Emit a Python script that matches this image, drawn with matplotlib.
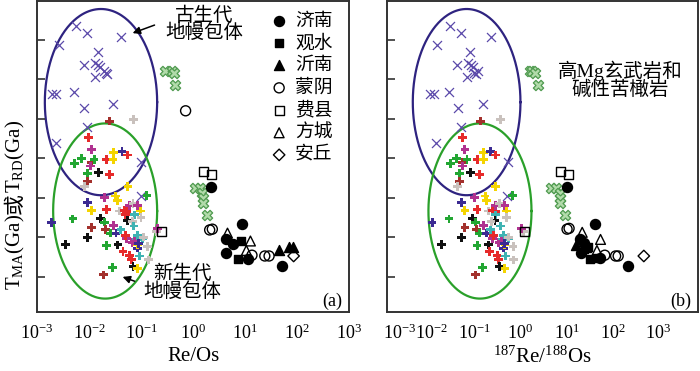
import numpy as np
import matplotlib.pyplot as plt

plt.rcParams['font.family'] = ['Liberation Serif', 'Noto Sans CJK SC']
plt.rcParams['mathtext.fontset'] = 'custom'
plt.rcParams['mathtext.rm'] = 'Liberation Serif'
plt.rcParams['mathtext.it'] = 'Liberation Serif:italic'

# ---- data (x: Re/Os for panel a, 187Re/188Os for panel b; y: T_MA / T_RD in Ga) ----
# Paleozoic mantle xenoliths (purple x)
paleo_y = [3.68, 3.58, 3.53, 3.44, 3.34, 3.18, 3.20, 3.18, 3.16, 3.11, 3.07, 3.03, 3.08,
           2.81, 2.81, 2.84, 2.64, 2.68, 2.39, 2.19, 1.95, 1.52]
paleo_xa = [0.0055, 0.0091, 0.042, 0.0026, 0.015, 0.0080, 0.013, 0.015, 0.016, 0.019, 0.022,
            0.013, 0.021, 0.0019, 0.0023, 0.0051, 0.0080, 0.029, 0.0093, 0.0023, 0.10, 0.10]
paleo_xb = [0.029, 0.050, 0.225, 0.015, 0.079, 0.042, 0.072, 0.086, 0.093, 0.12, 0.11,
            0.069, 0.10, 0.011, 0.013, 0.028, 0.043, 0.15, 0.052, 0.0144, 0.54, 0.50]

# high-Mg basalt and alkaline picrite (green x)
hmg_y = [3.11, 3.11, 3.08, 2.93, 1.62, 1.62, 1.56, 1.49, 1.43, 1.28]
hmg_xa = [0.285, 0.39, 0.44, 0.46, 1.07, 1.34, 1.47, 1.53, 1.53, 1.83]
hmg_xb = [1.6, 1.8, 2.1, 2.4, 4.7, 6.0, 7.1, 7.4, 7.4, 9.2]

# Cenozoic mantle xenoliths (coloured crosses)
cross_group = ['brown', 'gray', 'red', 'magenta', 'green', 'green', 'brown', 'green', 'magenta',
               'black', 'green', 'brown', 'red', 'yellow', 'yellow', 'indigo', 'red', 'red',
               'gray', 'yellow', 'green', 'magenta', 'yellow', 'indigo', 'yellow', 'yellow',
               'red', 'gray', 'red', 'red', 'red', 'magenta', 'gray', 'magenta', 'yellow',
               'teal', 'black', 'gray', 'black', 'green', 'indigo', 'green', 'brown', 'brown',
               'magenta', 'teal', 'green', 'indigo', 'magenta', 'black', 'black', 'green',
               'black', 'magenta', 'teal', 'teal', 'indigo', 'yellow', 'red', 'red', 'red',
               'teal', 'gray', 'gray', 'black', 'yellow', 'green', 'brown', 'gray', 'magenta',
               'teal', 'teal', 'magenta', 'indigo', 'red', 'gray', 'gray']
cross_y = [2.47, 2.49, 2.26, 2.11, 2.00, 1.93, 1.95, 1.98, 1.90, 1.82, 1.81, 1.70, 1.98, 2.07,
           1.98, 2.08, 2.04, 1.79, 1.64, 1.64, 1.53, 1.50, 1.52, 1.44, 1.46, 1.34, 1.35, 1.33,
           1.34, 1.32, 1.29, 1.40, 1.43, 1.40, 1.33, 1.28, 1.21, 1.20, 1.24, 1.19, 1.18, 1.23,
           1.12, 1.10, 1.15, 1.14, 1.05, 1.05, 0.98, 0.99, 0.91, 0.89, 0.90, 0.93, 0.97, 0.98,
           0.86, 0.91, 0.82, 0.77, 0.71, 0.76, 0.88, 0.71, 0.63, 0.60, 0.61, 0.52, 1.07, 1.11,
           1.09, 1.02, 0.95, 0.92, 1.02, 1.00, 1.25]
cross_xa = [0.025, 0.072, 0.0098, 0.011, 0.0071, 0.0053, 0.011, 0.0125, 0.0105, 0.0154, 0.0093,
            0.0093, 0.0215, 0.030, 0.029, 0.043, 0.055, 0.025, 0.0083, 0.056, 0.13, 0.020, 0.032,
            0.0095, 0.035, 0.011, 0.0215, 0.039, 0.047, 0.052, 0.050, 0.060, 0.070, 0.087, 0.098,
            0.076, 0.055, 0.068, 0.0165, 0.020, 0.0019, 0.0049, 0.011, 0.0206, 0.030, 0.073,
            0.026, 0.033, 0.053, 0.0093, 0.0035, 0.0215, 0.036, 0.067, 0.081, 0.105, 0.085,
            0.087, 0.045, 0.060, 0.065, 0.094, 0.135, 0.14, 0.070, 0.087, 0.028, 0.019, 0.20,
            0.21, 0.041, 0.085, 0.075, 0.09, 0.05, 0.11, 0.10]
cross_xb = [0.135, 0.37, 0.055, 0.062, 0.041, 0.030, 0.056, 0.069, 0.056, 0.082, 0.048, 0.048,
            0.114, 0.16, 0.155, 0.22, 0.29, 0.13, 0.042, 0.29, 0.67, 0.10, 0.17, 0.052, 0.18,
            0.062, 0.114, 0.20, 0.25, 0.29, 0.28, 0.29, 0.35, 0.46, 0.50, 0.29, 0.28, 0.23,
            0.091, 0.107, 0.012, 0.028, 0.062, 0.11, 0.16, 0.37, 0.13, 0.18, 0.25, 0.052, 0.019,
            0.114, 0.20, 0.34, 0.41, 0.54, 0.42, 0.46, 0.21, 0.31, 0.33, 0.48, 0.69, 0.71, 0.35,
            0.46, 0.15, 0.107, 1.15, 1.05, 0.22, 0.43, 0.38, 0.45, 0.26, 0.55, 0.50]

cross_palette = {'red': '#e62a2a', 'brown': '#a3302c', 'magenta': '#b03290', 'yellow': '#f4d400',
                 'green': '#22a632', 'black': '#111111', 'indigo': '#3b2a92', 'teal': '#3fb3b3',
                 'gray': '#c9c1bd'}

# Mesozoic samples by locality: (panel a x, panel a y, panel b x, panel b y)
jinan = ([2.19, 8.6, 4.25, 5.8, 4.4, 11.2, 51], [1.63, 1.16, 0.97, 0.91, 0.80, 0.72, 0.63],
         [10.5, 41, 19.5, 24, 21, 53, 219], [1.63, 1.16, 0.98, 0.93, 0.80, 0.73, 0.63])
guanshui = ([8.5, 7.4], [0.95, 0.72], [30, 32, 45], [0.88, 0.72, 0.74])
yinan = ([45, 70, 84], [0.84, 0.88, 0.88], [16.5, 23, 27], [0.90, 0.86, 0.88])
mengyin = ([0.72, 2.09, 2.35, 13.6, 24, 29], [2.60, 1.09, 1.10, 0.77, 0.76, 0.76],
           [10.3, 11.4, 68, 117, 133], [1.10, 1.11, 0.77, 0.76, 0.76])
feixian = ([1.6, 2.3, 0.25], [1.83, 1.79, 1.07], [7.4, 11.2, 1.24], [1.83, 1.79, 1.07])
fangcheng = ([4.6, 12.7, 10.6], [1.05, 0.95, 0.83], [22, 55, 46], [1.06, 0.97, 0.83])
anqiu = ([86], [0.76], [480], [0.76])

localities = ['济南', '观水', '沂南', '蒙阴', '费县', '方城', '安丘']
loc_data = [jinan, guanshui, yinan, mengyin, feixian, fangcheng, anqiu]
loc_marker = ['o', 's', '^', 'o', 's', '^', 'D']
loc_filled = [True, True, True, False, False, False, False]
loc_size = [52, 38, 52, 52, 40, 50, 34]

# ellipses: centre log10(x), half width (decades), centre y, half height
ell_a = [(-1.77, 1.08, 2.71, 1.18, '#2e2380'), (-1.69, 1.00, 1.33, 1.11, '#2aa02a')]
ell_b = [(-1.17, 1.17, 2.71, 1.18, '#2e2380'), (-0.88, 1.12, 1.33, 1.11, '#2aa02a')]

fig = plt.figure(figsize=(7.0, 3.71), dpi=100)
ax_a = fig.add_axes([0.0529, 0.159, 0.4457, 0.838])
ax_b = fig.add_axes([0.5529, 0.159, 0.4443, 0.838])


def draw_panel(ax, panel, ells):
    t = np.linspace(0, 2 * np.pi, 300)
    for cx, a, cy, b, col in ells:
        ax.plot(10 ** (cx + a * np.cos(t)), cy + b * np.sin(t), color=col, lw=1.6, zorder=1)
    px = paleo_xa if panel == 'a' else paleo_xb
    ax.scatter(px, paleo_y, marker='x', s=42, color='#5b49aa', linewidths=0.9, zorder=2)
    hx = hmg_xa if panel == 'a' else hmg_xb
    ax.scatter(hx, hmg_y, marker='X', s=55, facecolor='#b2dbaa', edgecolor='#4f9a4f',
               linewidths=0.9, zorder=2)
    cx_ = cross_xa if panel == 'a' else cross_xb
    ax.scatter(cx_, cross_y, marker='P', s=40, c=[cross_palette[g] for g in cross_group],
               linewidths=0, zorder=3)
    handles = []
    for d, m, f, s in zip(loc_data, loc_marker, loc_filled, loc_size):
        x, y = (d[0], d[1]) if panel == 'a' else (d[2], d[3])
        h = ax.scatter(x, y, marker=m, s=s, facecolor='black' if f else 'none',
                       edgecolor='black', linewidths=1.0, zorder=4)
        handles.append(h)
    ax.set_xscale('log')
    ax.set_ylim(0.05, 3.99)
    ax.set_yticks([0.5, 1.0, 1.5, 2.0, 2.5, 3.0, 3.5])
    ax.set_yticklabels([])
    ax.tick_params(axis='y', direction='in', length=6, width=1.2, color='#333333')
    ax.tick_params(axis='x', which='both', length=0, labelsize=13, pad=8)
    ax.minorticks_off()
    for sp in ax.spines.values():
        sp.set_linewidth(1.4)
        sp.set_color('#333333')
    return handles


tick_labels = [r'$10^{-3}$', r'$10^{-2}$', r'$10^{-1}$', r'$10^{0}$', r'$10^{1}$', r'$10^{2}$', r'$10^{3}$']

handles = draw_panel(ax_a, 'a', ell_a)
ax_a.set_xlim(1e-3, 1e3)
ax_a.set_xticks([1e-3, 1e-2, 1e-1, 1, 1e1, 1e2, 1e3])
ax_a.set_xticklabels(tick_labels)
ax_a.set_xlabel('Re/Os', fontsize=15, labelpad=3)

draw_panel(ax_b, 'b', ell_b)
ax_b.set_xlim(10 ** -2.9, 10 ** 3.86)
ax_b.set_xticks([10 ** -2.62, 10 ** -1.93, 1e-1, 1, 1e1, 1e2, 1e3])
ax_b.set_xticklabels(tick_labels)
ax_b.set_xlabel(r'$^{187}$Re/$^{188}$Os', fontsize=15, labelpad=3)

# y label built from pieces so the CJK character keeps its own font
renderer = fig.canvas.get_renderer()
y0 = 0.218
for piece in [r'T$_{\rm MA}$(Ga)', '或', r'T$_{\rm RD}$(Ga)']:
    txt = fig.text(0.029, y0, piece, rotation=90, rotation_mode='anchor',
                   ha='left', va='baseline', fontsize=15)
    y0 += txt.get_window_extent(renderer).height / fig.bbox.height

ax_a.legend(handles, localities, loc='upper left', bbox_to_anchor=(0.752, 0.963),
            frameon=False, handlelength=0.8, handletextpad=0.45, labelspacing=0.265,
            borderpad=0, borderaxespad=0, scatterpoints=1, fontsize=13.5)

ax_a.text(0.535, 0.925, '古生代\n地幔包体', transform=ax_a.transAxes, ha='center',
          va='center', fontsize=14, linespacing=0.9)
ax_a.annotate('', xy=(0.298, 0.894), xytext=(0.385, 0.926), xycoords='axes fraction',
              arrowprops=dict(arrowstyle='-|>', color='black', lw=1.1, mutation_scale=11))
ax_a.text(0.465, 0.094, '新生代\n地幔包体', transform=ax_a.transAxes, ha='center',
          va='center', fontsize=14, linespacing=0.9)
ax_a.annotate('', xy=(0.266, 0.116), xytext=(0.321, 0.096), xycoords='axes fraction',
              arrowprops=dict(arrowstyle='-|>', color='black', lw=1.1, mutation_scale=11))
ax_a.text(0.945, 0.035, '(a)', transform=ax_a.transAxes, ha='center', va='center', fontsize=13)

ax_b.text(0.749, 0.746, '高Mg玄武岩和\n碱性苦橄岩', transform=ax_b.transAxes, ha='center',
          va='center', fontsize=14, linespacing=1.0)
ax_b.text(0.945, 0.035, '(b)', transform=ax_b.transAxes, ha='center', va='center', fontsize=13)

fig.savefig('out.png', dpi=100)
